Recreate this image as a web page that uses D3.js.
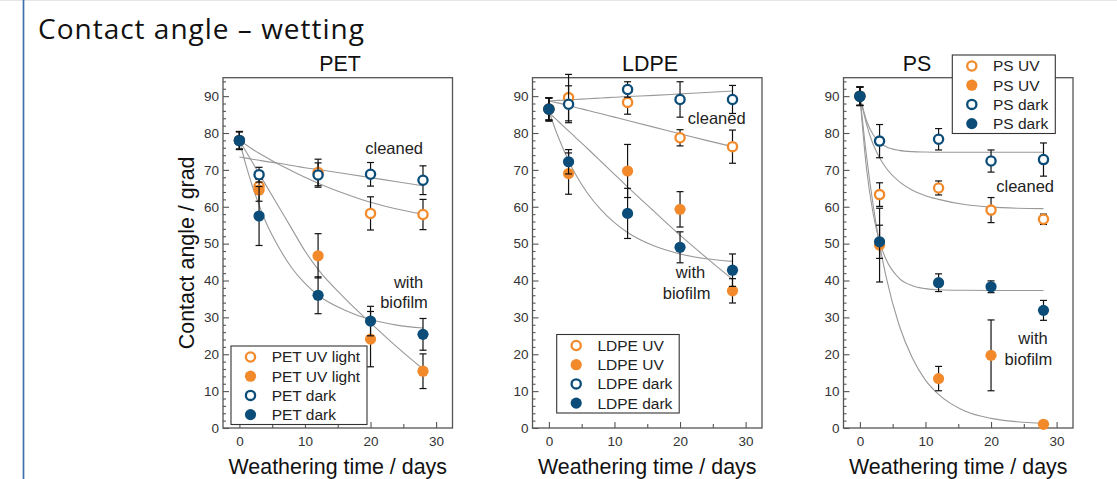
<!DOCTYPE html>
<html><head><meta charset="utf-8">
<script src="https://cdn.jsdelivr.net/npm/d3@7"></script>
<style>html,body{margin:0;padding:0;background:#fff;overflow:hidden}svg{display:block}</style>
</head><body><svg id="c" width="1117" height="479"></svg>
<script>
// ---------------- data ----------------
const days = [0, 3, 12, 20, 28];
const xTicks = [0, 10, 20, 30];
const yTicks = [0, 10, 20, 30, 40, 50, 60, 70, 80, 90];
const panelTitles = ["PET", "LDPE", "PS"];
const petLegend = ["PET UV light", "PET UV light", "PET dark", "PET dark"];
const ldpeLegend = ["LDPE UV", "LDPE UV", "LDPE dark", "LDPE dark"];
const psLegend = ["PS UV", "PS UV", "PS dark", "PS dark"];

// PET (series order: UV cleaned, UV biofilm, dark cleaned, dark biofilm)
const petUvClean = [78, 65.5, 69.3, 58.2, 57.9];
const petUvCleanErr = [2.4, 2.0, 3.6, 4.5, 4.1];
const petUvBio = [78, 64.5, 46.7, 24.1, 15.4];
const petUvBioErr = [2.4, 3.0, 6.0, 7.5, 4.7];
const petDarkClean = [78, 68.7, 68.6, 68.8, 67.2];
const petDarkCleanErr = [2.4, 2.0, 3.3, 3.2, 3.9];
const petDarkBio = [77.9, 57.5, 36.0, 29.0, 25.4];
const petDarkBioErr = [2.4, 8.0, 5.0, 4.0, 4.3];

// LDPE
const ldpeUvClean = [86.5, 89.6, 88.3, 78.7, 76.3];
const ldpeUvCleanErr = [3.0, 6.3, 3.2, 2.2, 4.5];
const ldpeUvBio = [86.5, 69.0, 69.7, 59.3, 37.2];
const ldpeUvBioErr = [3.0, 5.6, 7.2, 4.8, 3.3];
const ldpeDarkClean = [86.5, 87.8, 91.8, 89.1, 89.1];
const ldpeDarkCleanErr = [3.0, 5.0, 2.1, 4.8, 3.8];
const ldpeDarkBio = [86.4, 72.2, 58.2, 49.0, 42.8];
const ldpeDarkBioErr = [3.2, 3.3, 6.8, 4.2, 4.4];

// PS
const psUvClean = [90, 63.3, 65.1, 59.1, 56.6];
const psUvCleanErr = [2.5, 3.2, 1.9, 3.4, 1.4];
const psUvBio = [90, 49.6, 13.4, 19.7, 1.0];
const psUvBioErr = [2.5, 10.0, 3.3, 9.6, 0];
const psDarkClean = [90, 77.8, 78.3, 72.4, 72.8];
const psDarkCleanErr = [2.5, 4.5, 2.9, 3.0, 4.5];
const psDarkBio = [89.9, 50.5, 39.4, 38.3, 31.9];
const psDarkBioErr = [2.5, 4.5, 2.4, 1.6, 2.7];

// fitted curves (values at fitDays)
const fitDays = [0, 1, 2, 3, 4, 6, 8, 10, 12, 16, 20, 24, 28];
const petFitUvClean   = [78, 76.8, 75.6, 74.5, 73.5, 71.5, 69.7, 68.0, 66.4, 63.6, 61.2, 59.4, 58.0];
const petFitUvBio     = [78, 75.0, 72.0, 69.0, 66.0, 60.0, 54.0, 48.0, 43.0, 35.3, 28.5, 22.0, 16.0];
const petFitDarkClean = [73.5, 73.2, 72.9, 72.6, 72.3, 71.8, 71.2, 70.6, 70.1, 69.0, 67.9, 66.8, 65.7];
const petFitDarkBio   = [78, 71.3, 65.5, 60.5, 56.0, 49.0, 43.4, 39.2, 36.0, 32.0, 29.4, 27.9, 27.1];
const ldpeFitUvClean   = [88.7, 88.3, 87.9, 87.4, 87.0, 86.1, 85.2, 84.3, 83.4, 81.6, 79.8, 78.0, 76.3];
const ldpeFitUvBio     = [85.5, 83.9, 82.2, 80.6, 78.9, 75.6, 72.2, 68.8, 65.4, 58.8, 52.3, 46.2, 40.3];
const ldpeFitDarkClean = [88.7, 88.8, 88.9, 89.0, 89.1, 89.3, 89.5, 89.7, 89.9, 90.2, 90.6, 91.0, 91.4];
const ldpeFitDarkBio   = [86, 80.9, 76.5, 72.5, 69.0, 63.4, 59.1, 55.7, 53.0, 49.4, 47.2, 45.9, 45.2];
const psFitUvClean   = [90, 82.5, 77.0, 73.3, 70.5, 66.8, 64.5, 63.0, 62.0, 60.6, 59.9, 59.6, 59.5];
const psFitUvBio     = [90, 73.9, 60.7, 49.8, 41.0, 27.8, 19.0, 13.0, 9.1, 4.6, 2.6, 1.7, 1.3];
const psFitDarkClean = [90, 83.4, 79.6, 77.5, 76.3, 75.3, 74.95, 74.85, 74.8, 74.8, 74.8, 74.8, 74.8];
const psFitDarkBio   = [90, 70.5, 58.3, 50.5, 45.7, 40.6, 38.6, 37.8, 37.5, 37.35, 37.3, 37.3, 37.3];

// annotations: [text, day, angle]
const petNotes  = [["cleaned", 23.6, 74.3], ["with", 25.8, 38.0], ["biofilm", 25.1, 32.5]];
const ldpeNotes = [["cleaned", 25.6, 82.4], ["with", 21.6, 40.6], ["biofilm", 21.0, 35.0]];
const psNotes   = [["cleaned", 25.2, 64.1], ["with", 26.4, 22.7], ["biofilm", 25.7, 17.0]];

// ---------------- layout / style ----------------
const ORANGE = "#F28A2C", BLUE = "#0B4C78";
const seriesStyle = [
  {color: ORANGE, open: true}, {color: ORANGE, open: false},
  {color: BLUE, open: true}, {color: BLUE, open: false}
];
const panels = [
  {left: 223, titleX: 340, legend: {x: 231, y: 346, w: 136}, labels: petLegend, notes: petNotes,
   vals: [petUvClean, petUvBio, petDarkClean, petDarkBio], errs: [petUvCleanErr, petUvBioErr, petDarkCleanErr, petDarkBioErr],
   fits: [petFitUvClean, petFitUvBio, petFitDarkClean, petFitDarkBio]},
  {left: 532.5, titleX: 650, legend: {x: 556.7, y: 334.5, w: 122.5}, labels: ldpeLegend, notes: ldpeNotes,
   vals: [ldpeUvClean, ldpeUvBio, ldpeDarkClean, ldpeDarkBio], errs: [ldpeUvCleanErr, ldpeUvBioErr, ldpeDarkCleanErr, ldpeDarkBioErr],
   fits: [ldpeFitUvClean, ldpeFitUvBio, ldpeFitDarkClean, ldpeFitDarkBio]},
  {left: 843.5, titleX: 917, legend: {x: 952.3, y: 55, w: 103}, labels: psLegend, notes: psNotes,
   vals: [psUvClean, psUvBio, psDarkClean, psDarkBio], errs: [psUvCleanErr, psUvBioErr, psDarkCleanErr, psDarkBioErr],
   fits: [psFitUvClean, psFitUvBio, psFitDarkClean, psFitDarkBio]}
];
const W = 229.5, TOP = 77.7, BOT = 428;
const FONT = "'Liberation Sans', Arial, Helvetica, sans-serif";

const svg = d3.select("#c");
svg.append("rect").attr("width", 1117).attr("height", 479).attr("fill", "#fff");
svg.append("line").attr("x1", 0).attr("x2", 1117).attr("y1", 0.5).attr("y2", 0.5).attr("stroke", "#e6e6e6");
svg.append("line").attr("x1", 23.5).attr("x2", 23.5).attr("y1", 0).attr("y2", 479).attr("stroke", "#3a71ad").attr("stroke-width", 1.7);
svg.append("text").attr("x", 38).attr("y", 38.5).attr("font-family", "'Open Sans', 'Noto Sans', sans-serif")
  .attr("font-size", 28).attr("letter-spacing", 1).attr("fill", "#111").text("Contact angle \u2013 wetting");

const y = d3.scaleLinear().domain([0, 95]).range([BOT, TOP]);
const minorY = d3.range(0, 95, 2).filter(v => v % 10 !== 0);
const minorX = [5, 15, 25];

panels.forEach((p, pi) => {
  const x = d3.scaleLinear().domain([-2.5, 32.5]).range([p.left, p.left + W]);
  const g = svg.append("g");
  g.append("rect").attr("x", p.left).attr("y", TOP).attr("width", W).attr("height", BOT - TOP)
    .attr("fill", "#fff").attr("stroke", "#555").attr("stroke-width", 1.3);

  // axes
  const ax = g.append("g").attr("transform", `translate(${p.left},0)`)
    .call(d3.axisLeft(y).tickValues(yTicks).tickSize(-6).tickPadding(4).tickFormat(d3.format("d")));
  const axm = g.append("g").attr("transform", `translate(${p.left},0)`)
    .call(d3.axisLeft(y).tickValues(minorY).tickSize(-3).tickFormat(""));
  const bx = g.append("g").attr("transform", `translate(0,${BOT})`)
    .call(d3.axisBottom(x).tickValues(xTicks).tickSize(-6).tickPadding(8).tickFormat(d3.format("d")));
  const bxm = g.append("g").attr("transform", `translate(0,${BOT})`)
    .call(d3.axisBottom(x).tickValues(minorX).tickSize(-4).tickFormat(""));
  [ax, axm, bx, bxm].forEach(a => {
    a.select(".domain").remove();
    a.selectAll(".tick line").attr("stroke", "#555").attr("stroke-width", 1.1);
    a.selectAll(".tick text").attr("font-family", FONT).attr("font-size", 13.5).attr("fill", "#333");
  });

  // fits
  const line = d3.line().x((d, i) => x(fitDays[i])).y(d => y(d)).curve(d3.curveMonotoneX);
  p.fits.forEach(f => {
    g.append("path").attr("d", line(f)).attr("fill", "none").attr("stroke", "#999").attr("stroke-width", 1.1);
  });

  // points with error bars
  p.vals.forEach((vals, si) => {
    const st = seriesStyle[si];
    const errs = p.errs[si];
    const sg = g.append("g");
    vals.forEach((v, i) => {
      const e = errs[i];
      if (e > 0) {
        const cx = x(days[i]);
        sg.append("line").attr("x1", cx).attr("x2", cx).attr("y1", y(v + e)).attr("y2", y(v - e))
          .attr("stroke", "#111").attr("stroke-width", 1.2);
        [v + e, v - e].forEach(c => sg.append("line").attr("x1", cx - 3.5).attr("x2", cx + 3.5)
          .attr("y1", y(c)).attr("y2", y(c)).attr("stroke", "#111").attr("stroke-width", 1.2));
      }
    });
    sg.selectAll("circle").data(vals).join("circle")
      .attr("cx", (d, i) => x(days[i])).attr("cy", d => y(d))
      .attr("r", st.open ? 4.6 : 5.6)
      .attr("fill", st.open ? "#fff" : st.color)
      .attr("stroke", st.open ? st.color : "none").attr("stroke-width", 2.3);
  });

  // annotations
  p.notes.forEach(n => {
    g.append("text").attr("x", x(n[1])).attr("y", y(n[2])).attr("text-anchor", "middle")
      .attr("font-family", FONT).attr("font-size", 16.5).attr("fill", "#222").text(n[0]);
  });

  // title
  g.append("text").attr("x", p.titleX).attr("y", 70.5).attr("text-anchor", "middle")
    .attr("font-family", FONT).attr("font-size", 21.4).attr("fill", "#111").text(panelTitles[pi]);

  // x label
  g.append("text").attr("x", p.left + W / 2).attr("y", 474).attr("text-anchor", "middle")
    .attr("font-family", FONT).attr("font-size", 21.4).attr("fill", "#111").text("Weathering time / days");

  // legend
  const L = p.legend, rowH = 19.2;
  const lg = g.append("g");
  lg.append("rect").attr("x", L.x).attr("y", L.y).attr("width", L.w).attr("height", 78.5)
    .attr("fill", "#fff").attr("stroke", "#333").attr("stroke-width", 1.1);
  p.labels.forEach((lab, si) => {
    const st = seriesStyle[si];
    const cy = L.y + 11 + si * rowH;
    lg.append("circle").attr("cx", L.x + 19.5).attr("cy", cy).attr("r", st.open ? 4.6 : 5.6)
      .attr("fill", st.open ? "#fff" : st.color)
      .attr("stroke", st.open ? st.color : "none").attr("stroke-width", 2.3);
    lg.append("text").attr("x", L.x + 40.7).attr("y", cy + 5.4)
      .attr("font-family", FONT).attr("font-size", 15.5).attr("fill", "#222").text(lab);
  });
});

// y label (first panel only)
svg.append("text").attr("transform", `translate(193.5,${(TOP + BOT) / 2}) rotate(-90)`)
  .attr("text-anchor", "middle").attr("font-family", FONT).attr("font-size", 21.4).attr("fill", "#111")
  .text("Contact angle / grad");
</script>
</body></html>
